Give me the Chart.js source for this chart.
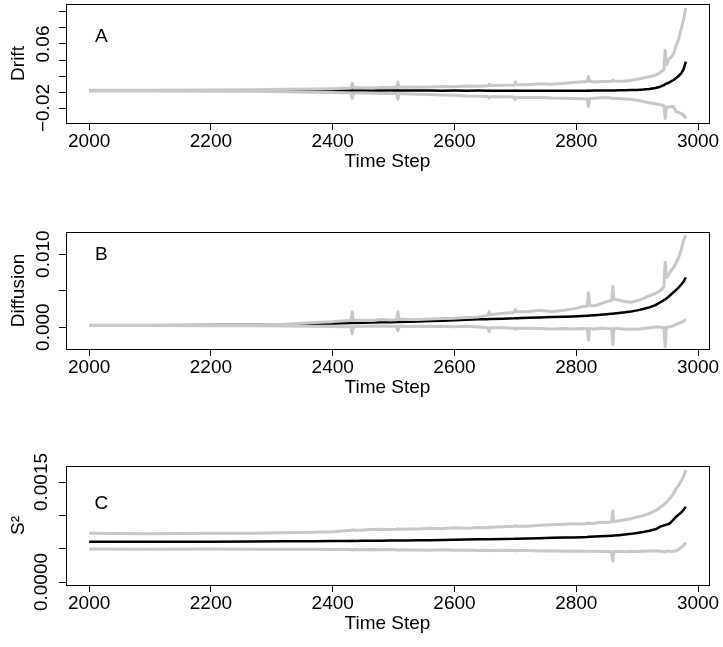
<!DOCTYPE html>
<html>
<head>
<meta charset="utf-8">
<script src="https://cdn.jsdelivr.net/npm/chart.js@4.4.0/dist/chart.umd.min.js"></script>
<style>
html, body { margin: 0; padding: 0; background: #fff; }
#wrap { position: relative; width: 723px; height: 647px; }
#wrap canvas { position: absolute; left: 0; top: 0; }
</style>
</head>
<body>
<div id="wrap">
<canvas id="drift" width="723" height="647"></canvas>
<canvas id="diffusion" width="723" height="647"></canvas>
<canvas id="s2" width="723" height="647"></canvas>
</div>
<script>
// time steps shared by all three panels
var steps = [2000, 2100, 2200, 2270, 2320, 2370, 2400, 2415, 2430,
	2432,
	2434, 2450, 2465, 2480, 2495, 2505, 2507, 2509,
	2525, 2540, 2560, 2580, 2600, 2620, 2640, 2655, 2657, 2659,
	2680, 2698, 2700, 2702, 2720, 2740, 2760, 2780, 2795, 2810,
	2818, 2820, 2822, 2830, 2840, 2850, 2858, 2860, 2862, 2870,
	2880, 2890, 2900, 2910, 2920, 2930, 2938, 2944, 2946, 2948,
	2952, 2956, 2960, 2964, 2968, 2972, 2976, 2980];

// panel A - drift
var driftMean = [0.0018, 0.0018, 0.0018, 0.0018, 0.0019, 0.0018, 0.0019, 0.0019, 0.002,
	0.0021,
	0.002, 0.0019, 0.002, 0.002, 0.0019, 0.002, 0.0021, 0.0019,
	0.0018, 0.0019, 0.0018, 0.0017, 0.0018, 0.0017, 0.0018, 0.0017, 0.0018, 0.0017,
	0.0016, 0.0017, 0.0018, 0.0016, 0.0016, 0.0017, 0.0016, 0.0016, 0.0017, 0.0016,
	0.0017, 0.0018, 0.0017, 0.0018, 0.0018, 0.0019, 0.002, 0.002, 0.002, 0.0021,
	0.0022, 0.0024, 0.0026, 0.003, 0.0038, 0.005, 0.0066, 0.0085, 0.0098, 0.0105,
	0.0115, 0.0135, 0.015, 0.0175, 0.02, 0.023, 0.028, 0.038];
var driftUpper = [0.0022, 0.0023, 0.0026, 0.0028, 0.0034, 0.0038, 0.0042, 0.0046, 0.005,
	0.011,
	0.0052, 0.0054, 0.0051, 0.0058, 0.0055, 0.0057, 0.0125, 0.0058,
	0.0062, 0.0058, 0.0063, 0.0068, 0.0066, 0.0075, 0.0072, 0.0078, 0.0095, 0.008,
	0.0085, 0.0088, 0.0125, 0.009, 0.0092, 0.0102, 0.0098, 0.011, 0.0118, 0.0128,
	0.0132, 0.019, 0.0135, 0.0125, 0.0132, 0.013, 0.0134, 0.015, 0.0136, 0.0134,
	0.0138, 0.0145, 0.016, 0.0175, 0.019, 0.021, 0.0245, 0.028, 0.052, 0.034,
	0.041, 0.044, 0.048, 0.058, 0.066, 0.078, 0.09, 0.105];
var driftLower = [0.0014, 0.0013, 0.001, 0.0008, 0.0002, -0.0003, -0.0006, -0.0009, -0.0012,
	-0.008,
	-0.0014, -0.0013, -0.0016, -0.0018, -0.0016, -0.0019, -0.009, -0.002,
	-0.0024, -0.0028, -0.0032, -0.0038, -0.0042, -0.005, -0.0052, -0.0056, -0.0075, -0.006,
	-0.0058, -0.0064, -0.0095, -0.0066, -0.0068, -0.0066, -0.0074, -0.0078, -0.008, -0.0084,
	-0.0086, -0.018, -0.0084, -0.0078, -0.0072, -0.0068, -0.0074, -0.0085, -0.0078, -0.0082,
	-0.0086, -0.0092, -0.0102, -0.0118, -0.0135, -0.0148, -0.016, -0.0172, -0.033, -0.019,
	-0.019, -0.018, -0.0185, -0.0245, -0.0255, -0.027, -0.0285, -0.033];

// panel B - diffusion
var diffMean = [0.00023, 0.00025, 0.00028, 0.00031, 0.00036, 0.00045, 0.0005, 0.00053, 0.00056,
	0.00056,
	0.00057, 0.0006, 0.00063, 0.00065, 0.00068, 0.0007, 0.00071, 0.00071,
	0.00074, 0.00077, 0.00082, 0.00088, 0.00094, 0.001, 0.00106, 0.00109, 0.0011, 0.0011,
	0.00116, 0.00121, 0.00122, 0.00122, 0.00127, 0.00132, 0.00137, 0.00142, 0.00146, 0.00152,
	0.00156, 0.00157, 0.00158, 0.00163, 0.0017, 0.00177, 0.00183, 0.00184, 0.00186, 0.00193,
	0.00203, 0.00215, 0.00229, 0.00247, 0.0027, 0.00302, 0.0034, 0.0037, 0.0038, 0.0039,
	0.0042, 0.0045, 0.0048, 0.0051, 0.0054, 0.0058, 0.0062, 0.0068];
var diffUpper = [0.00024, 0.00025, 0.00027, 0.00031, 0.0004, 0.00062, 0.00075, 0.00085, 0.0009,
	0.0021,
	0.0009, 0.00095, 0.00092, 0.00105, 0.00098, 0.001, 0.0021, 0.0011,
	0.00105, 0.00103, 0.0011, 0.00118, 0.00122, 0.0013, 0.0014, 0.0016, 0.0021, 0.0017,
	0.0019, 0.002, 0.0024, 0.0021, 0.0021, 0.0023, 0.0021, 0.0023, 0.0025, 0.0028,
	0.0029, 0.0047, 0.003, 0.0029, 0.0032, 0.0035, 0.0036, 0.0056, 0.0038, 0.0037,
	0.0035, 0.0034, 0.0036, 0.0039, 0.0043, 0.0046, 0.005, 0.0055, 0.0089, 0.0068,
	0.0072, 0.0078, 0.0082, 0.0088, 0.0095, 0.0105, 0.0118, 0.0126];
var diffLower = [0.00022, 0.00021, 0.0002, 0.00018, 0.00014, 0.0001, 0.00008, 0.00006, 0.00005,
	-0.0009,
	0.00005, 0.0001, 0.00013, 0.00015, 0.00012, 0.0001, -0.0005, 0.0001,
	0.00008, 0.00012, 0.00008, 0.0001, 0.00005, 0.0001, 0.0, -0.0001, -0.0006, -0.0001,
	-0.0001, -0.00015, -0.0003, -0.00015, -0.00015, -0.0002, -0.00025, -0.0002, -0.00025, -0.0002,
	-0.00022, -0.0018, -0.0002, -0.00025, -0.00015, -0.0002, -0.00022, -0.0024, -0.0002, -0.0002,
	-0.0003, -0.00025, -0.0003, -0.0002, -0.0001, 0.0, 0.0, -0.0001, -0.0027, 0.0,
	0.0, 0.0001, 0.00018, 0.0004, 0.0005, 0.00065, 0.0008, 0.00105];

// panel C - S^2
var s2Mean = [0.000605, 0.000603, 0.000605, 0.000608, 0.00061, 0.000612, 0.000614, 0.000615, 0.000616,
	0.000617,
	0.000616, 0.000618, 0.000619, 0.00062, 0.000621, 0.000622, 0.000623, 0.000622,
	0.000624, 0.000625, 0.000628, 0.00063, 0.000633, 0.000636, 0.00064, 0.000641, 0.000642, 0.000642,
	0.000646, 0.000649, 0.00065, 0.00065, 0.000654, 0.000658, 0.000662, 0.000666, 0.000669, 0.000672,
	0.000675, 0.000677, 0.000678, 0.000681, 0.000686, 0.00069, 0.000694, 0.000695, 0.000697, 0.000703,
	0.000712, 0.000722, 0.000735, 0.00075, 0.000768, 0.00079, 0.00083, 0.00085, 0.000853, 0.00086,
	0.00087, 0.0009, 0.00094, 0.00098, 0.00101, 0.00104, 0.00108, 0.00113];
var s2Upper = [0.00073, 0.000725, 0.000732, 0.00073, 0.00074, 0.000748, 0.000755, 0.000765, 0.000775,
	0.000785,
	0.000778, 0.00078, 0.000788, 0.000792, 0.000786, 0.000792, 0.000798, 0.00079,
	0.000794, 0.000795, 0.000805, 0.0008, 0.000812, 0.000808, 0.000818, 0.000815, 0.000825, 0.00082,
	0.00083, 0.000836, 0.000845, 0.000838, 0.000838, 0.00085, 0.000858, 0.000865, 0.000872, 0.00087,
	0.000878, 0.000885, 0.000878, 0.00088, 0.000895, 0.000892, 0.0009, 0.00107, 0.000905, 0.00092,
	0.000935, 0.00095, 0.000975, 0.000995, 0.00103, 0.00107, 0.00112, 0.00116, 0.00118, 0.00119,
	0.00124, 0.00128, 0.00133, 0.0014, 0.00145, 0.00151, 0.00158, 0.00168];
var s2Lower = [0.000495, 0.000492, 0.000495, 0.000493, 0.00049, 0.000492, 0.000488, 0.00049, 0.000486,
	0.000478,
	0.000488, 0.000485, 0.000489, 0.000482, 0.000486, 0.000484, 0.000475, 0.000484,
	0.000481, 0.00048, 0.000478, 0.000482, 0.000476, 0.000479, 0.000474, 0.000475, 0.00047, 0.000474,
	0.000476, 0.000471, 0.000466, 0.000472, 0.000472, 0.000466, 0.00047, 0.000462, 0.000466, 0.000463,
	0.00046, 0.000455, 0.000461, 0.000462, 0.000458, 0.000462, 0.000455, 0.000315, 0.000458, 0.00046,
	0.000455, 0.000462, 0.000458, 0.000462, 0.000465, 0.000468, 0.000462, 0.000458, 0.00045, 0.000462,
	0.000465, 0.000458, 0.000462, 0.00047, 0.00049, 0.000515, 0.000545, 0.00059];

// labelled y ticks (other ticks only get a tick mark)
var driftTickValues = [-0.02, 0.06];
var driftTickLabels = ['\u22120.02', '0.06'];
var diffTickValues = [0, 0.01];
var diffTickLabels = ['0.000', '0.010'];
var s2TickValues = [0, 0.0015];
var s2TickLabels = ['0.0000', '0.0015'];

var xTitle = 'Time Step';
var font = { family: 'Liberation Sans, Arial, sans-serif', size: 19 };

function toPoints(ys) {
	var pts = [];
	for (var i in steps) {
		pts.push({ x: steps[i], y: ys[i] });
	}
	return pts;
}

var boxPlugin = {
	id: 'box',
	afterDraw: function(chart, args, opts) {
		var ctx = chart.ctx, a = chart.chartArea;
		ctx.save();
		ctx.strokeStyle = '#000';
		ctx.lineWidth = 1;
		ctx.strokeRect(Math.round(a.left) + 0.5, Math.round(a.top) + 0.5,
			Math.round(a.right - a.left), Math.round(a.bottom - a.top));
		ctx.fillStyle = '#000';
		ctx.font = font.size + 'px ' + font.family;
		ctx.textAlign = 'center';
		ctx.textBaseline = 'middle';
		ctx.fillText(opts.letter, chart.scales.x.getPixelForValue(opts.letterX),
			chart.scales.y.getPixelForValue(opts.letterY));
		ctx.restore();
	}
};

function makePanel(id, p) {
	var ctx = document.getElementById(id);
	return new Chart(ctx, {
		type: 'line',
		data: {
			datasets: [
				{ data: toPoints(p.upper), borderColor: '#c8c8c8', borderWidth: 3, order: 0 },
				{ data: toPoints(p.lower), borderColor: '#c8c8c8', borderWidth: 3, order: 0 },
				{ data: toPoints(p.mean), borderColor: '#000000', borderWidth: 2.5, order: 1 }
			]
		},
		options: {
			responsive: false,
			animation: false,
			devicePixelRatio: 1,
			layout: { padding: { top: p.boxTop, bottom: 647 - p.boxBottom - 50, left: 0, right: 14 } },
			elements: { point: { radius: 0 }, line: { tension: 0, borderJoinStyle: 'round' } },
			plugins: {
				legend: { display: false },
				tooltip: { enabled: false },
				box: { letter: p.letter, letterX: 2020, letterY: p.letterY }
			},
			scales: {
				x: {
					type: 'linear',
					min: 1962,
					max: 3018,
					afterFit: function(s) { s.height = 50; },
					border: { display: false },
					grid: { drawOnChartArea: false, drawTicks: true, tickLength: 7, color: '#000' },
					ticks: {
						stepSize: 200, includeBounds: false, autoSkip: false, maxRotation: 0,
						padding: 0, color: '#000', font: font,
						callback: function(v) { return String(v); }
					},
					title: { display: true, text: xTitle, color: '#000', font: font, padding: 0 }
				},
				y: {
					min: p.yMin,
					max: p.yMax,
					afterFit: function(s) { s.width = 66; },
					border: { display: false },
					grid: { drawOnChartArea: false, drawTicks: true, tickLength: 7, color: '#000' },
					ticks: {
						stepSize: p.yStep, includeBounds: false, autoSkip: false,
						minRotation: 90, maxRotation: 90, crossAlign: 'center',
						padding: p.tickPad, color: '#000', font: font,
						callback: function(v) {
							for (var i in p.tickValues) {
								if (Math.abs(v - p.tickValues[i]) < p.yStep / 100) return p.tickLabels[i];
							}
							return '';
						}
					},
					title: { display: true, text: p.yTitle, color: '#000', font: font, padding: { top: 7, bottom: 0 } }
				}
			}
		},
		plugins: [boxPlugin]
	});
}

makePanel('drift', {
	mean: driftMean, upper: driftUpper, lower: driftLower,
	boxTop: 4, boxBottom: 123, yMin: -0.03875, yMax: 0.11, yStep: 0.02, tickPad: -8.5,
	tickValues: driftTickValues, tickLabels: driftTickLabels,
	yTitle: 'Drift', letter: 'A', letterY: 0.069
});
makePanel('diffusion', {
	mean: diffMean, upper: diffUpper, lower: diffLower,
	boxTop: 232, boxBottom: 349, yMin: -0.003, yMax: 0.01303, yStep: 0.005, tickPad: -8.3,
	tickValues: diffTickValues, tickLabels: diffTickLabels,
	yTitle: 'Diffusion', letter: 'B', letterY: 0.0099
});
makePanel('s2', {
	mean: s2Mean, upper: s2Upper, lower: s2Lower,
	boxTop: 466, boxBottom: 585, yMin: -0.000045, yMax: 0.00174, yStep: 0.0005, tickPad: -11.5,
	tickValues: s2TickValues, tickLabels: s2TickLabels,
	yTitle: 'S\u00b2', letter: 'C', letterY: 0.00118
});
</script>
</body>
</html>
